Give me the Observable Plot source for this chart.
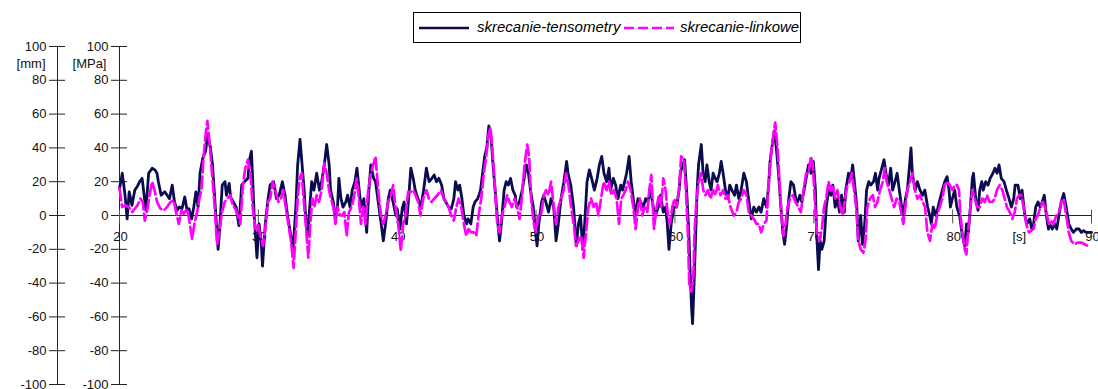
<!DOCTYPE html>
<html>
<head>
<meta charset="utf-8">
<script src="https://cdn.jsdelivr.net/npm/d3@7"></script>
<script src="https://cdn.jsdelivr.net/npm/@observablehq/plot@0.6"></script>
<style>
  html, body { margin: 0; padding: 0; background: #fff; }
  #wrap { position: relative; width: 1098px; height: 389px; }
  #legend { position: absolute; left: 413px; top: 12px; width: 386px; height: 29px; border: 1px solid #000; background: #fff;
    font: italic 15px "Liberation Sans", Arial, sans-serif; color: #000; }
  #legend .sw { position: absolute; top: 13px; }
  #legend .lb { position: absolute; top: 5px; white-space: nowrap; }
</style>
</head>
<body>
<div id="wrap"></div>
<script>
// ---- data ----
const seriesNames = ["skrecanie-tensometry", "skrecanie-linkowe"];
const seriesColors = ["#0b0b50", "#ff00ff"];

const tensTime = [20.0,20.2,20.4,20.55,20.7,20.9,21.1,21.27,21.45,21.63,21.8,21.9,22.1,22.35,22.55,22.7,22.8,23.0,23.26,23.43,23.6,23.8,23.96,24.15,24.3,24.5,24.7,24.87,25.0,25.2,25.35,25.5,25.66,25.8,26.0,26.2,26.35,26.55,26.7,26.9,27.1,27.2,27.4,27.6,27.7,27.9,28.0,28.2,28.4,28.6,28.8,29.0,29.25,29.36,29.5,29.6,29.7,29.9,30.05,30.2,30.3,30.5,30.7,30.85,31.1,31.3,
31.5,31.73,31.92,32.1,32.3,32.5,32.7,32.83,33.0,33.1,33.3,33.4,33.55,33.7,33.84,34.0,34.2,34.4,34.56,34.75,34.92,35.1,35.2,35.4,35.56,35.7,35.8,35.95,36.1,36.3,36.43,36.6,36.76,36.95,37.1,37.3,37.4,37.6,37.8,37.96,38.1,38.3,38.44,38.6,38.8,39.0,39.16,39.36,39.5,39.7,39.9,40.0,40.2,40.36,40.5,40.67,40.84,40.98,41.15,41.3,41.5,41.7,41.9,42.1,42.3,42.5,42.66,42.83,43.0,
43.2,43.36,43.5,43.7,43.9,44.08,44.2,44.37,44.5,44.66,44.8,45.0,45.1,45.3,45.47,45.6,45.8,46.0,46.15,46.3,46.45,46.6,46.77,46.9,47.05,47.2,47.37,47.5,47.7,47.85,48.0,48.16,48.33,48.5,48.6,48.8,49.0,49.2,49.3,49.45,49.6,49.8,49.9,50.07,50.2,50.4,50.55,50.7,50.9,51.08,51.27,51.44,51.6,51.8,52.0,52.2,52.3,52.5,52.7,52.9,53.05,53.2,53.36,53.5,53.67,53.84,54.0,54.2,54.4,54.56,54.73,
54.89,55.08,55.25,55.37,55.56,55.73,55.9,56.1,56.23,56.38,56.52,56.7,56.85,57.0,57.17,57.34,57.53,57.72,57.89,58.05,58.25,58.44,58.6,58.8,58.97,59.16,59.33,59.45,59.57,59.73,59.93,60.12,60.3,60.4,60.55,60.7,60.84,61.0,61.08,61.2,61.27,61.36,61.5,61.6,61.7,61.9,62.03,62.18,62.3,62.47,62.6,62.75,62.9,63.04,63.2,63.33,63.47,63.64,63.8,63.95,64.1,64.3,64.43,64.6,64.77,64.96,65.15,65.3,65.5,65.68,65.87,66.04,66.2,66.4,66.6,
66.75,66.85,66.98,67.15,67.3,67.46,67.63,67.77,67.9,68.06,68.2,68.35,68.54,68.7,68.83,69.0,69.14,69.3,69.45,69.62,69.8,69.97,70.12,70.2,70.34,70.46,70.58,70.75,70.9,71.06,71.23,71.37,71.54,71.7,71.85,72.0,72.2,72.3,72.5,72.66,72.8,72.95,73.1,73.2,73.38,73.5,73.67,73.8,73.96,74.1,74.3,74.44,74.6,74.7,74.9,75.06,75.2,75.37,75.54,75.68,75.85,76.0,76.16,76.33,76.45,76.6,76.74,76.9,77.0,77.1,77.3,77.46,77.65,77.84,78.0,78.2,
78.35,78.47,78.6,78.8,78.95,79.1,79.26,79.43,79.6,79.74,79.84,79.98,80.15,80.3,80.5,80.7,80.87,81.0,81.13,81.28,81.42,81.5,81.66,81.83,81.95,82.1,82.2,82.38,82.55,82.7,82.9,83.05,83.2,83.34,83.5,83.7,83.87,84.06,84.23,84.4,84.5,84.7,84.87,85.0,85.2,85.35,85.55,85.7,85.83,85.98,86.15,86.3,86.45,86.6,86.75,86.9,87.0,87.18,87.35,87.5,87.65,87.82,88.0,88.18,88.37,88.54,88.7,88.9,89.1,89.27,89.43,89.6,89.8,90.0];
const tensValue = [16,25,12,-2,14,6,15,17,20,22,10,3,25,28,27,25,20,12,14,12,10,18,8,3,5,4,11,3,4,-2,5,14,5,25,34,38,48,40,30,5,-20,-10,18,20,12,19,11,8,5,-6,18,20,22,33,38,20,0,-25,-5,-15,-30,-5,10,18,20,10,
12,20,12,0,-10,-20,5,30,45,35,15,0,-12,5,20,15,25,15,20,30,42,30,15,8,-2,5,22,10,5,8,12,5,15,20,28,12,5,10,-10,15,30,22,20,10,-2,-15,-5,10,15,8,0,4,-8,4,8,-5,12,28,22,15,10,5,15,28,20,22,24,20,22,
18,10,8,5,4,10,20,15,18,10,0,-5,-2,-5,5,8,10,15,25,35,40,53,45,30,15,0,-15,-5,15,20,18,22,15,12,5,8,15,25,30,25,15,5,-5,-18,-5,8,12,8,2,10,5,-15,-5,10,20,32,25,18,5,-18,-5,0,-20,-5,20,27,22,15,22,30,35,
25,20,28,15,22,18,10,18,15,20,25,35,20,10,0,10,8,5,10,8,15,5,0,5,12,2,5,-5,-20,-5,5,5,15,25,30,33,15,-10,-30,-55,-64,-45,-10,15,30,42,25,20,30,20,15,25,22,20,25,32,25,15,10,18,15,12,18,10,15,25,20,10,-2,5,2,5,2,10,5,
18,32,40,50,40,25,5,-10,-17,-5,10,20,18,10,8,12,8,15,22,30,25,32,15,-10,-32,-15,-20,-15,5,15,12,18,5,10,2,12,2,15,25,22,30,18,5,-15,0,-17,-5,15,20,18,20,25,15,22,28,33,25,18,28,15,20,25,15,5,0,10,15,30,40,25,15,20,15,12,15,5,
0,-5,5,0,5,10,15,20,23,15,5,10,15,5,0,-12,-18,-5,-10,5,22,25,10,3,15,20,15,20,18,22,25,28,25,30,22,20,15,10,5,10,18,18,10,15,0,-5,-2,-8,-5,5,8,5,8,12,0,-8,-5,-8,-5,-8,0,8,13,5,-5,-8,-10,-8,-8,-10,-9,-10,-10,-10];

const linkTime = [20.0,20.19,20.43,20.67,20.91,21.1,21.29,21.51,21.68,21.82,21.99,22.16,22.35,22.52,22.71,22.95,23.19,23.43,23.67,23.91,24.07,24.27,24.46,24.63,24.87,25.03,25.23,25.39,25.59,25.75,25.9,26.06,26.23,26.33,26.5,26.66,26.86,27.02,27.19,27.38,27.58,27.74,27.98,28.15,28.34,28.53,28.7,28.89,29.06,29.25,29.42,29.59,29.78,29.97,30.14,30.33,30.5,30.69,30.86,31.03,31.22,
31.44,31.63,31.8,31.97,32.16,32.35,32.54,32.69,32.83,32.97,33.12,33.26,33.41,33.6,33.74,33.89,34.03,34.2,34.37,34.56,34.75,34.92,35.09,35.23,35.4,35.56,35.71,35.88,36.04,36.19,36.36,36.52,36.72,36.91,37.08,37.24,37.39,37.56,37.72,37.91,38.11,38.27,38.44,38.63,38.83,38.99,39.16,39.35,39.55,39.71,39.88,40.07,40.26,40.43,40.6,40.79,40.98,41.15,41.32,41.51,41.68,41.87,42.11,42.28,42.47,42.66,42.9,43.14,
43.36,43.53,43.7,43.89,44.08,44.25,44.42,44.61,44.8,44.97,45.14,45.33,45.52,45.69,45.86,46.05,46.24,46.41,46.58,46.72,46.89,47.05,47.2,47.37,47.53,47.73,47.92,48.09,48.25,48.45,48.64,48.81,48.97,49.17,49.36,49.5,49.64,49.84,50.0,50.17,50.36,50.56,50.72,50.89,51.08,51.28,51.44,51.61,51.8,52.0,52.16,52.33,52.52,52.71,52.88,53.05,53.24,53.43,53.6,53.77,53.96,54.15,54.32,54.49,54.68,54.87,
55.08,55.25,55.42,55.61,55.8,55.97,56.14,56.28,56.45,56.62,56.81,57.0,57.17,57.34,57.48,57.65,57.82,58.01,58.15,58.3,58.49,58.68,58.85,59.01,59.16,59.33,59.49,59.64,59.81,59.97,60.12,60.29,60.45,60.65,60.79,60.93,61.03,61.17,61.32,61.41,61.56,61.72,61.89,62.04,62.2,62.37,62.56,62.76,62.92,63.09,63.28,63.48,63.64,63.81,64.0,64.24,64.43,64.6,64.77,64.96,65.15,65.32,65.49,65.68,65.87,66.04,66.21,66.4,66.59,
66.76,66.91,67.05,67.22,67.39,67.53,67.68,67.82,67.96,68.11,68.3,68.49,68.68,68.9,69.07,69.26,69.45,69.62,69.79,69.93,70.1,70.22,70.41,70.58,70.74,70.89,71.06,71.22,71.37,71.54,71.7,71.9,72.09,72.26,72.42,72.57,72.74,72.9,73.05,73.21,73.38,73.57,73.72,73.86,74.05,74.25,74.41,74.58,74.77,74.97,75.11,75.25,75.44,75.61,75.78,75.97,76.16,76.33,76.45,76.6,76.74,76.93,77.1,77.29,77.46,77.65,77.84,78.01,78.18,78.37,
78.54,78.71,78.88,79.07,79.26,79.43,79.6,79.79,79.98,80.15,80.32,80.46,80.56,80.7,80.87,80.99,81.13,81.28,81.42,81.59,81.76,81.95,82.14,82.31,82.47,82.67,82.86,83.03,83.19,83.39,83.58,83.75,83.91,84.11,84.3,84.47,84.63,84.78,84.94,85.11,85.3,85.5,85.66,85.83,85.98,86.14,86.31,86.5,86.65,86.79,86.94,87.1,87.27,87.46,87.65,87.82,87.99,88.18,88.37,88.54,88.78,89.02,89.26,89.5,89.74,89.91];
const linkValue = [16,5,6,5,2,4,6,10,8,-3,3,12,20,15,8,4,3,5,8,9,2,-5,3,1,4,-3,-14,-5,2,10,15,35,50,56,42,25,5,-17,-10,2,8,10,12,6,4,0,-5,18,28,33,26,5,-8,-5,-12,-18,-8,8,10,20,15,
8,10,15,5,-5,-15,-31,-10,10,22,25,10,-5,-25,-5,10,5,12,8,15,31,25,15,10,5,-5,5,0,0,2,-12,2,5,12,22,10,-5,5,-5,15,25,30,35,15,0,-5,0,8,12,18,5,-5,-21,-5,0,14,14,15,12,8,0,10,15,10,8,10,12,15,
10,8,5,0,-3,5,10,5,-5,-12,-8,-10,-10,-12,0,10,25,35,48,52,35,15,-5,-10,0,5,12,8,5,10,5,-2,10,30,42,35,10,-5,-10,0,0,12,15,12,20,5,-5,5,10,15,25,18,5,-5,-18,-15,-12,-25,-10,5,10,5,8,0,10,20,
15,20,12,15,10,-5,10,12,15,20,15,5,-8,5,10,0,5,2,15,24,-8,5,12,5,22,15,0,-5,5,10,5,15,35,33,15,-10,-40,-45,-38,-10,10,20,25,15,12,15,10,15,12,18,12,15,10,12,5,0,2,8,10,15,12,2,0,-2,-5,-5,-10,-5,-3,
20,35,45,55,40,20,0,-12,-5,5,10,12,8,5,2,15,25,25,35,30,5,-10,-15,-8,5,10,20,15,18,10,15,5,0,10,18,20,25,15,5,-15,-20,-22,-15,5,10,12,5,8,15,20,28,20,15,10,5,10,8,0,-5,5,15,20,25,15,10,12,8,5,-10,-15,
-5,-8,0,5,10,18,20,18,15,18,18,15,0,-10,-20,-23,-8,5,15,10,5,5,10,8,12,8,8,10,15,18,15,10,5,2,-2,2,10,12,12,5,-5,-10,-9,-8,-2,0,5,8,5,0,-5,-3,-5,0,2,8,10,0,-10,-15,-17,-16,-16,-17,-18,-18];

const xTicks = [20, 30, 40, 50, 60, 70, 80, 90];
const yTicks = [-100, -80, -60, -40, -20, 0, 20, 40, 60, 80, 100];
const xUnit = "[s]", xUnitAt = 84.8;
const yUnitLeft = "[mm]", yUnitRight = "[MPa]";

// ---- build table ----
const tens = tensTime.map((t, i) => ({t, v: tensValue[i], s: seriesNames[0]}));
const link = linkTime.map((t, i) => ({t, v: linkValue[i], s: seriesNames[1]}));

const axisColor = "#222";
const tickShape = { draw(context, l) { context.moveTo(0, 0); context.lineTo(0, -l); } };
const fmt = d => String(d);

const chart = Plot.plot({
  width: 1098,
  height: 389,
  marginLeft: 119,
  marginRight: 7,
  marginTop: 46,
  marginBottom: 5,
  style: { fontFamily: '"Liberation Sans", Arial, sans-serif', fontSize: "13px", color: "#111", background: "white", overflow: "visible" },
  x: { domain: [20, 90], axis: null },
  y: { domain: [-100, 100], label: null },
  marks: [
    // left (second) axis at x = 20 and first axis shifted left
    Plot.ruleX([20], { stroke: axisColor }),
    Plot.ruleX([20], { stroke: axisColor, dx: -62 }),
    Plot.axisY({ ticks: yTicks, tickSize: 16, dx: 8, tickFormat: () => "", label: null, stroke: axisColor }),
    Plot.axisY({ ticks: yTicks, tickSize: 16, dx: 8 - 62, tickFormat: () => "", label: null, stroke: axisColor }),
    Plot.axisY({ ticks: yTicks, tickSize: 0, tickPadding: 11, tickFormat: fmt, label: null, fill: "#111" }),
    Plot.axisY({ ticks: yTicks, tickSize: 0, tickPadding: 11, tickFormat: fmt, dx: -62, label: null, fill: "#111" }),
    Plot.text([yUnitRight], { x: 20, y: 100, dx: -13, dy: 17, text: d => d, textAnchor: "end", fill: "#111" }),
    Plot.text([yUnitLeft], { x: 20, y: 100, dx: -74, dy: 17, text: d => d, textAnchor: "end", fill: "#111" }),
    // x axis along zero
    Plot.ruleY([0], { stroke: axisColor }),
    Plot.vector(xTicks, { x: d => d, y: 0, length: 13, anchor: "middle", dy: 1, shape: tickShape, stroke: "#555", strokeWidth: 1 }),
    Plot.text(xTicks, { x: d => d, y: 0, dy: 21, dx: 1, text: fmt, fill: "#111" }),
    Plot.text([xUnit], { x: xUnitAt, y: 0, dy: 21, text: d => d, fill: "#111" }),
    // series
    Plot.line(tens, { x: "t", y: "v", stroke: seriesColors[0], strokeWidth: 2.8, curve: "linear" }),
    Plot.line(link, { x: "t", y: "v", stroke: seriesColors[1], strokeWidth: 2.7, strokeDasharray: "12,4", curve: "linear" })
  ]
});

const wrap = document.getElementById("wrap");
wrap.appendChild(chart);

// legend (HTML, above the plot area)
const legend = document.createElement("div");
legend.id = "legend";
legend.innerHTML =
  `<svg class="sw" style="left:5px" width="50" height="4"><line x1="0" x2="50" y1="2" y2="2" stroke="${seriesColors[0]}" stroke-width="2.6"/></svg>` +
  `<span class="lb" style="left:63px">${seriesNames[0]}</span>` +
  `<svg class="sw" style="left:210px" width="50" height="4"><line x1="0" x2="50" y1="2" y2="2" stroke="${seriesColors[1]}" stroke-width="2.6" stroke-dasharray="10,4"/></svg>` +
  `<span class="lb" style="left:266px">${seriesNames[1]}</span>`;
wrap.appendChild(legend);
</script>
</body>
</html>
